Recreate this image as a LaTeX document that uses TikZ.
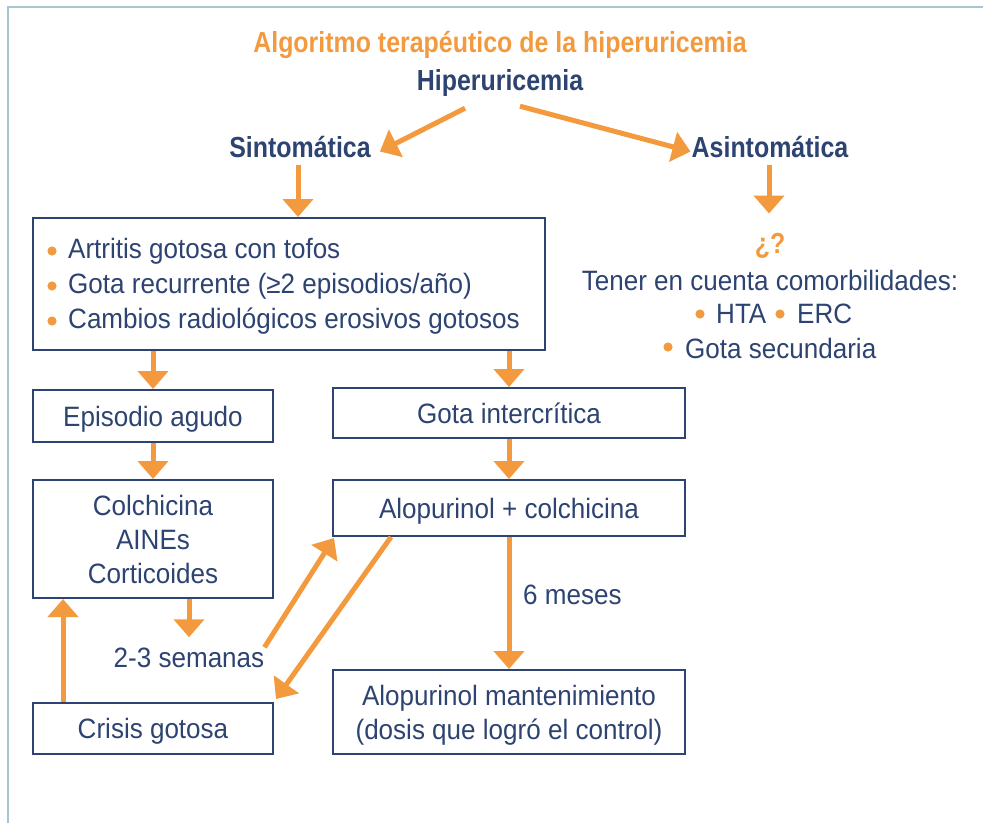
\documentclass[tikz,border=0pt]{standalone}
\usepackage{fontspec}
\setmainfont{Liberation Sans}
\newfontfamily\bodyfont[FakeStretch=0.93]{Liberation Sans}
\newfontfamily\headfont[FakeStretch=0.86]{Liberation Sans}
\usetikzlibrary{arrows.meta,calc}
\definecolor{orng}{HTML}{F39A3E}
\definecolor{navy}{HTML}{2D4371}
\definecolor{framec}{HTML}{A8C4CF}
\begin{document}
\begin{tikzpicture}[x=1pt,y=-1pt,
  box/.style={draw=navy,line width=2pt,inner sep=0pt,text=navy,align=center,
    font=\bodyfont\fontsize{28}{34}\selectfont},
  one/.style={box,text height=20pt,text depth=0pt},
  txt/.style={text=navy,font=\bodyfont\fontsize{28}{34}\selectfont,inner sep=0pt,anchor=base},
  head/.style={text=navy,font=\headfont\bfseries\fontsize{29}{32}\selectfont,inner sep=0pt,anchor=base},
  arr/.style={draw=orng,line width=5pt,-{Triangle[width=30pt,length=18pt]}},
  dot/.style={fill=orng},
]
\useasboundingbox (0,0) rectangle (983,823);
\draw[framec,line width=1.5pt] (8,823) -- (8,7) -- (983,7);

% headings
\node[head,text=orng] (title) at (500,52) {Algoritmo terapéutico de la hiperuricemia};
\node[head] (hiper) at (500,90) {Hiperuricemia};
\node[head] (sint) at (300,157) {Sintomática};
\node[head] (asin) at (770,157) {Asintomática};

% right column
\node[head,text=orng] (q) at (770,253) {¿?};
\node[txt] (ten) at (770,290) {Tener en cuenta comorbilidades:};
\node[txt,anchor=base west] (hta) at (716,323) {HTA};
\node[txt,anchor=base west] (erc) at (797,323) {ERC};
\node[txt,anchor=base west] (gs) at (685,358) {Gota secundaria};
\fill[dot] (700,314) circle (4.6);
\fill[dot] (780,314) circle (4.6);
\fill[dot] (668,347) circle (4.6);

% big box
\node[box,minimum width=512pt,minimum height=132pt] (big) at (289,284) {};
\node[txt,anchor=base west] (i1) at (68,258) {Artritis gotosa con tofos};
\node[txt,anchor=base west] (i2) at (68,293) {Gota recurrente (≥2 episodios/año)};
\node[txt,anchor=base west] (i3) at (68,328) {Cambios radiológicos erosivos gotosos};
\fill[dot] (52,251) circle (4.6);
\fill[dot] (52,286) circle (4.6);
\fill[dot] (52,321) circle (4.6);

% boxes
\node[one,minimum width=240pt,minimum height=52pt] (epi) at (153,416) {Episodio agudo};
\node[one,minimum width=352pt,minimum height=50pt] (gota) at (509,413) {Gota intercrítica};
\node[box,text height=88pt,text depth=0pt,minimum width=240pt,minimum height=118pt] (colch) at (153,539) {Colchicina\\AINEs\\Corticoides};
\node[one,minimum width=352pt,minimum height=56pt] (alop) at (509,508) {Alopurinol + colchicina};
\node[one,minimum width=240pt,minimum height=51pt] (crisis) at (153,728.5) {Crisis gotosa};
\node[box,text height=54pt,text depth=0pt,minimum width=352pt,minimum height=84pt] (mant) at (509,712) {Alopurinol mantenimiento\\(dosis que logró el control)};

% labels
\node[txt] (sem) at (189,667) {2-3 semanas};
\node[txt,anchor=base west] (meses) at (523,604) {6 meses};

% arrows
\draw[arr] ($(hiper.south)+(-35,12)$) -- ($(sint.east)+(9,5)$);
\draw[arr] ($(hiper.south)+(20,10)$) -- ($(asin.west)+(-1,5)$);
\draw[arr] ($(sint.south)+(-2,8)$) -- ($(big.north)+(9,0)$);
\draw[arr] ($(asin.south)+(-1,8)$) -- ($(q.north)+(-1,-19)$);
\draw[arr] (big.south -| epi.north) -- (epi.north);
\draw[arr] (big.south -| gota.north) -- (gota.north);
\draw[arr] (epi.south) -- (colch.north);
\draw[arr] (gota.south) -- (alop.north);
\draw[arr] (colch.south -| sem.north) -- ($(sem.north)+(0,-10)$);
\draw[arr] ($(crisis.north)+(-90,0)$) -- ($(colch.south)+(-90,0)$);
\draw[arr] (sem.north east) -- ($(alop.south west)+(2,1)$);
\draw[arr] ($(alop.south west)+(59,0)$) -- ($(crisis.north east)+(2,-3)$);
\draw[arr] (alop.south) -- (mant.north);
\end{tikzpicture}
\end{document}
